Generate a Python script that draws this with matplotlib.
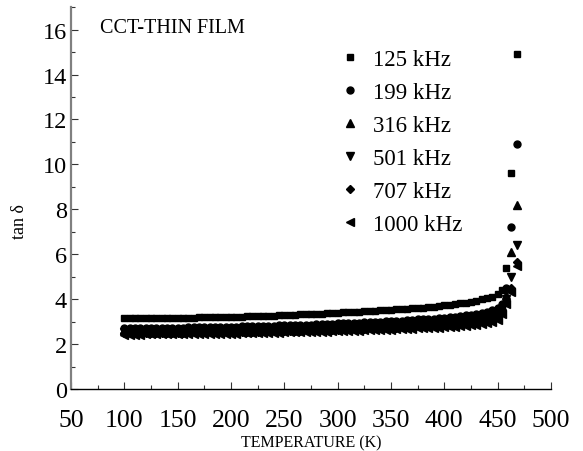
import matplotlib
matplotlib.use("Agg")
import matplotlib.pyplot as plt
from matplotlib.ticker import MultipleLocator

plt.rcParams['font.family'] = ['Liberation Serif', 'DejaVu Serif']
plt.rcParams['mathtext.fontset'] = 'stix'

temperature = [100, 105, 110, 115, 120, 125, 130, 135, 140, 145, 150,
               155, 160, 165, 170, 175, 180, 185, 190, 195, 200,
               205, 210, 215, 220, 225, 230, 235, 240, 245, 250,
               255, 260, 265, 270, 275, 280, 285, 290, 295, 300,
               305, 310, 315, 320, 325, 330, 335, 340, 345, 350,
               355, 360, 365, 370, 375, 380, 385, 390, 395, 400,
               405, 410, 415, 420, 425, 430, 435, 440, 445, 450,
               454, 458, 463, 468]

tan_125 = [3.15, 3.15, 3.15, 3.16, 3.16, 3.16, 3.16, 3.17, 3.17, 3.17, 3.17,
           3.18, 3.18, 3.18, 3.19, 3.19, 3.20, 3.20, 3.21, 3.21, 3.22,
           3.22, 3.23, 3.24, 3.24, 3.25, 3.26, 3.26, 3.27, 3.28, 3.29,
           3.30, 3.31, 3.32, 3.33, 3.34, 3.35, 3.36, 3.37, 3.38, 3.40,
           3.41, 3.42, 3.43, 3.45, 3.46, 3.47, 3.49, 3.50, 3.52, 3.53,
           3.55, 3.56, 3.58, 3.60, 3.62, 3.63, 3.65, 3.67, 3.70, 3.72,
           3.75, 3.78, 3.81, 3.85, 3.89, 3.94, 3.99, 4.05, 4.12, 4.25,
           4.40, 5.40, 9.60, 14.90]

tan_199 = [2.72, 2.72, 2.72, 2.72, 2.73, 2.73, 2.73, 2.73, 2.74, 2.74, 2.74,
           2.74, 2.75, 2.75, 2.75, 2.76, 2.76, 2.77, 2.77, 2.77, 2.78,
           2.78, 2.79, 2.79, 2.80, 2.80, 2.81, 2.82, 2.82, 2.83, 2.84,
           2.84, 2.85, 2.86, 2.87, 2.87, 2.88, 2.89, 2.90, 2.91, 2.92,
           2.93, 2.94, 2.95, 2.96, 2.97, 2.98, 2.99, 3.00, 3.02, 3.03,
           3.04, 3.05, 3.07, 3.08, 3.10, 3.11, 3.13, 3.14, 3.16, 3.18,
           3.20, 3.22, 3.25, 3.28, 3.31, 3.35, 3.39, 3.44, 3.50, 3.60,
           3.80, 4.50, 7.20, 10.90]

tan_316 = [2.64, 2.64, 2.64, 2.64, 2.65, 2.65, 2.65, 2.65, 2.66, 2.66, 2.66,
           2.66, 2.67, 2.67, 2.67, 2.68, 2.68, 2.68, 2.69, 2.69, 2.70,
           2.70, 2.71, 2.71, 2.72, 2.72, 2.73, 2.73, 2.74, 2.75, 2.75,
           2.76, 2.77, 2.77, 2.78, 2.79, 2.80, 2.80, 2.81, 2.82, 2.83,
           2.84, 2.85, 2.86, 2.87, 2.88, 2.89, 2.90, 2.91, 2.92, 2.93,
           2.94, 2.95, 2.97, 2.98, 2.99, 3.01, 3.02, 3.04, 3.05, 3.07,
           3.09, 3.11, 3.13, 3.16, 3.19, 3.22, 3.26, 3.30, 3.36, 3.45,
           3.70, 4.20, 6.10, 8.20]

tan_501 = [2.56, 2.56, 2.56, 2.56, 2.57, 2.57, 2.57, 2.57, 2.58, 2.58, 2.58,
           2.58, 2.59, 2.59, 2.59, 2.60, 2.60, 2.60, 2.61, 2.61, 2.61,
           2.62, 2.62, 2.63, 2.63, 2.64, 2.64, 2.65, 2.65, 2.66, 2.66,
           2.67, 2.67, 2.68, 2.69, 2.69, 2.70, 2.71, 2.72, 2.72, 2.73,
           2.74, 2.75, 2.76, 2.76, 2.77, 2.78, 2.79, 2.80, 2.81, 2.82,
           2.83, 2.84, 2.86, 2.87, 2.88, 2.89, 2.91, 2.92, 2.94, 2.95,
           2.97, 2.99, 3.01, 3.03, 3.06, 3.09, 3.12, 3.16, 3.21, 3.30,
           3.55, 4.00, 5.00, 6.40]

tan_707 = [2.49, 2.49, 2.49, 2.49, 2.50, 2.50, 2.50, 2.50, 2.51, 2.51, 2.51,
           2.51, 2.52, 2.52, 2.52, 2.52, 2.53, 2.53, 2.53, 2.54, 2.54,
           2.54, 2.55, 2.55, 2.56, 2.56, 2.57, 2.57, 2.58, 2.58, 2.59,
           2.59, 2.60, 2.60, 2.61, 2.62, 2.62, 2.63, 2.64, 2.64, 2.65,
           2.66, 2.67, 2.67, 2.68, 2.69, 2.70, 2.71, 2.72, 2.72, 2.73,
           2.74, 2.75, 2.77, 2.78, 2.79, 2.80, 2.81, 2.83, 2.84, 2.85,
           2.87, 2.89, 2.91, 2.93, 2.95, 2.98, 3.01, 3.05, 3.10, 3.20,
           3.45, 3.90, 4.50, 5.65]

tan_1000 = [2.42, 2.42, 2.42, 2.42, 2.43, 2.43, 2.43, 2.43, 2.44, 2.44, 2.44,
            2.44, 2.44, 2.45, 2.45, 2.45, 2.46, 2.46, 2.46, 2.47, 2.47,
            2.47, 2.48, 2.48, 2.49, 2.49, 2.50, 2.50, 2.51, 2.51, 2.52,
            2.52, 2.53, 2.53, 2.54, 2.54, 2.55, 2.56, 2.56, 2.57, 2.58,
            2.58, 2.59, 2.60, 2.60, 2.61, 2.62, 2.63, 2.64, 2.64, 2.65,
            2.66, 2.67, 2.68, 2.69, 2.70, 2.71, 2.72, 2.73, 2.74, 2.75,
            2.77, 2.78, 2.80, 2.82, 2.84, 2.87, 2.90, 2.94, 2.99, 3.08,
            3.35, 3.80, 4.30, 5.50]

labels = ['125 kHz', '199 kHz', '316 kHz', '501 kHz', '707 kHz', '1000 kHz']
series = [tan_125, tan_199, tan_316, tan_501, tan_707, tan_1000]
markers = ['s', 'o', '^', 'v', 'D', '<']
sizes = [4.5, 5.0, 5.2, 5.2, 4.5, 5.2]

fig = plt.figure(figsize=(5.83, 4.52), dpi=100)
ax = fig.add_axes([0.1218, 0.137, 0.823, 0.845])

for vals, lab, m, s in zip(series, labels, markers, sizes):
    ax.plot(temperature, vals, linestyle='none', marker=m, markersize=s,
            color='black', label=lab)

ax.set_xlim(50, 500)
ax.set_ylim(0, 17)
ax.xaxis.set_major_locator(MultipleLocator(50))
ax.xaxis.set_minor_locator(MultipleLocator(25))
ax.yaxis.set_major_locator(MultipleLocator(2))
ax.yaxis.set_minor_locator(MultipleLocator(1))

ax.spines['top'].set_visible(False)
ax.spines['right'].set_visible(False)
ax.spines['left'].set_color('#808080')
ax.spines['left'].set_linewidth(1.6)
ax.spines['bottom'].set_linewidth(1.0)

ax.tick_params(axis='both', which='major', direction='in', length=5, width=0.8,
               color='#333333')
ax.tick_params(axis='both', which='minor', direction='in', length=3, width=0.8,
               color='#333333')
ax.tick_params(axis='x', which='major', labelsize=18.5, pad=14)
ax.tick_params(axis='y', which='major', labelsize=17.5, pad=3)

ax.set_xlabel('TEMPERATURE (K)', fontsize=11.5, va='center')
ax.xaxis.set_label_coords(0.5, -0.139)
ax.set_ylabel('tan δ', fontsize=13)
ax.yaxis.set_label_coords(-0.09, 0.44)

ax.text(77, 16.1, 'CCT-THIN FILM', fontsize=14.5, va='center', ha='left')

leg = ax.legend(loc='upper left', bbox_to_anchor=(0.544, 0.915), frameon=False,
                fontsize=16.5, handlelength=0.8, handletextpad=0.57,
                labelspacing=0.52, borderaxespad=0)

fig.savefig('out.png', dpi=100)
